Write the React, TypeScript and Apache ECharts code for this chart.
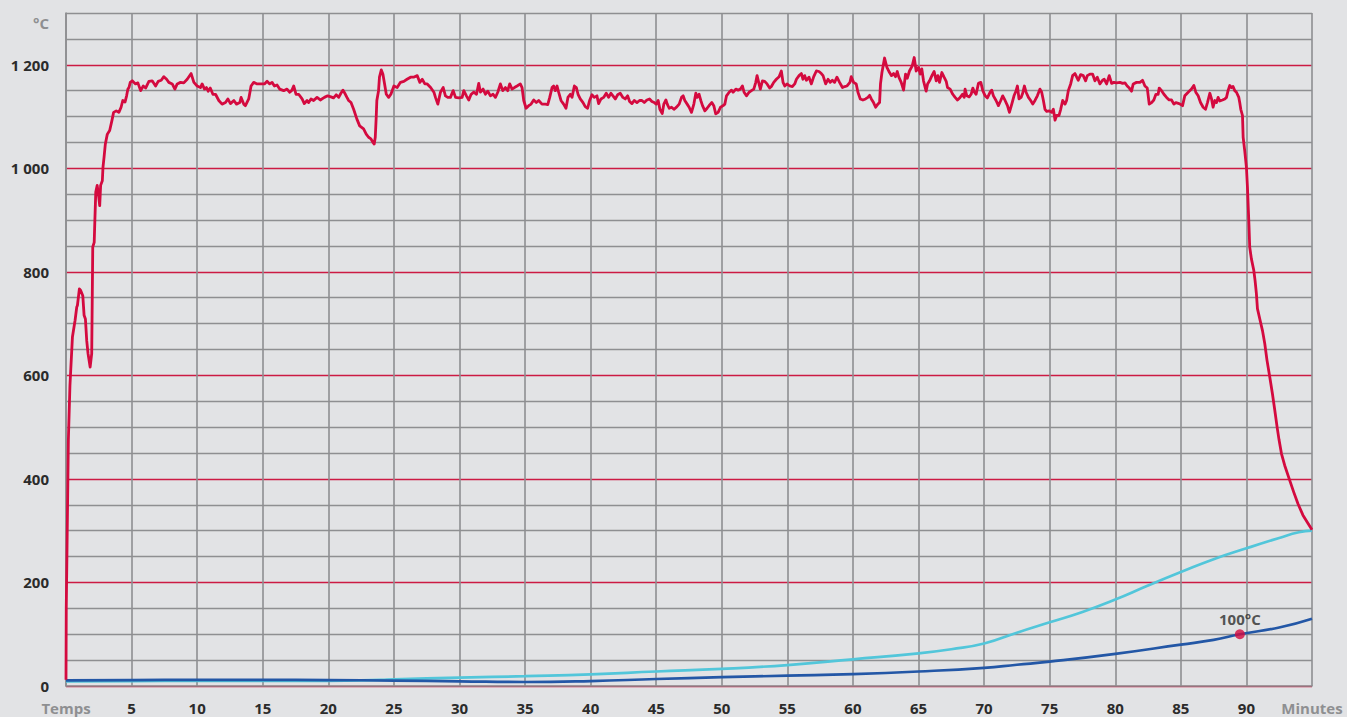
import React, { useEffect, useRef } from "react";
import * as echarts from "echarts";

// Time in minutes, temperature in °C
const furnaceTemp: [number, number][] = [
  [0, 12], [0.02, 150], [0.08, 270], [0.13, 372], [0.18, 475], [0.3, 580], [0.49, 674], [0.69, 706],
  [0.82, 732], [0.87, 735], [1.02, 767], [1.12, 764], [1.28, 754], [1.38, 716], [1.48, 709], [1.58, 667],
  [1.68, 642], [1.84, 616], [1.96, 642], [2.04, 848], [2.15, 857], [2.2, 899], [2.27, 954], [2.38, 967],
  [2.5, 944], [2.57, 928], [2.64, 967], [2.77, 976], [2.82, 1002], [2.9, 1021], [3.0, 1047], [3.15, 1066],
  [3.33, 1073], [3.5, 1092], [3.63, 1108], [3.83, 1111], [4.03, 1108], [4.2, 1118], [4.33, 1131], [4.5, 1128],
  [4.62, 1140], [4.72, 1153], [4.8, 1156], [4.9, 1166],
  [5.05, 1169], [5.3, 1163], [5.48, 1165], [5.69, 1150], [5.89, 1159], [6.07, 1155], [6.32, 1168], [6.57, 1169],
  [6.83, 1159], [7.03, 1168], [7.26, 1170], [7.46, 1177], [7.67, 1172], [7.84, 1166], [8.1, 1163], [8.3, 1153],
  [8.48, 1163], [8.73, 1166], [8.98, 1165], [9.24, 1172], [9.54, 1183], [9.75, 1166], [10.0, 1159], [10.25, 1156],
  [10.38, 1163], [10.56, 1153], [10.71, 1156], [10.84, 1149], [11.0, 1155], [11.2, 1143], [11.4, 1143], [11.65, 1131],
  [11.9, 1124], [12.16, 1127], [12.34, 1134], [12.54, 1125], [12.8, 1131], [13.0, 1124], [13.25, 1127], [13.35, 1137],
  [13.55, 1124], [13.68, 1121], [13.93, 1134], [14.11, 1159], [14.31, 1166], [14.57, 1163], [14.82, 1163], [15.13, 1163],
  [15.33, 1168], [15.53, 1163], [15.71, 1166], [15.89, 1159], [16.09, 1161], [16.29, 1153], [16.6, 1150], [16.85, 1153],
  [17.06, 1147], [17.23, 1151], [17.36, 1159], [17.54, 1143], [17.74, 1143], [18.0, 1134], [18.17, 1125], [18.38, 1131],
  [18.5, 1127], [18.68, 1134], [18.88, 1131], [19.14, 1137], [19.39, 1132], [19.7, 1137], [19.95, 1140], [20.2, 1138],
  [20.4, 1136], [20.6, 1142], [20.79, 1137], [20.96, 1145], [21.12, 1151], [21.3, 1143], [21.42, 1137], [21.55, 1131],
  [21.73, 1127], [21.93, 1114], [22.18, 1095], [22.39, 1082], [22.69, 1076], [22.89, 1066], [23.07, 1060], [23.25, 1057],
  [23.4, 1050], [23.5, 1047], [23.58, 1060], [23.65, 1098], [23.7, 1131], [23.83, 1150], [23.9, 1176], [24.04, 1190],
  [24.16, 1182], [24.29, 1163], [24.42, 1143], [24.6, 1137], [24.77, 1143],
  [25.0, 1159], [25.25, 1156], [25.5, 1166], [25.76, 1168], [26.0, 1172], [26.27, 1176], [26.5, 1176], [26.78, 1179],
  [26.98, 1166], [27.16, 1172], [27.36, 1163], [27.54, 1163], [27.8, 1156], [28.05, 1147], [28.17, 1137], [28.35, 1124],
  [28.55, 1147], [28.76, 1156], [28.93, 1140], [29.11, 1137], [29.31, 1137], [29.52, 1150], [29.7, 1137], [29.95, 1136],
  [30.2, 1137], [30.33, 1150], [30.53, 1140], [30.71, 1132], [30.89, 1143], [31.09, 1147], [31.3, 1143], [31.47, 1164],
  [31.6, 1147], [31.8, 1153], [31.98, 1143], [32.16, 1149], [32.36, 1140], [32.56, 1143], [32.74, 1137], [32.92, 1147],
  [33.12, 1163], [33.3, 1150], [33.5, 1156], [33.68, 1150], [33.83, 1163], [34.01, 1153], [34.19, 1156], [34.39, 1159],
  [34.64, 1163], [34.77, 1156], [34.9, 1131], [35.08, 1116], [35.28, 1121], [35.46, 1124], [35.66, 1132], [35.86, 1127],
  [36.04, 1131], [36.29, 1124], [36.55, 1124], [36.73, 1123], [36.88, 1137], [37.06, 1156], [37.18, 1159], [37.31, 1150],
  [37.44, 1159], [37.56, 1147], [37.74, 1131], [37.94, 1124], [38.12, 1116], [38.27, 1137], [38.45, 1143], [38.58, 1137],
  [38.76, 1159], [38.91, 1156], [39.04, 1143], [39.21, 1134], [39.42, 1127], [39.59, 1119], [39.77, 1116], [39.92, 1131],
  [40.1, 1142], [40.28, 1137], [40.48, 1140], [40.61, 1125], [40.79, 1134], [40.99, 1137], [41.19, 1145], [41.37, 1137],
  [41.55, 1145], [41.7, 1140], [41.88, 1134], [42.06, 1142], [42.26, 1145], [42.46, 1137], [42.64, 1134], [42.82, 1140],
  [42.97, 1129], [43.15, 1125], [43.32, 1131], [43.53, 1127], [43.73, 1131], [43.91, 1131], [44.09, 1127], [44.29, 1132],
  [44.49, 1134], [44.67, 1129], [44.85, 1127],
  [45.0, 1124], [45.15, 1131], [45.28, 1114], [45.46, 1106], [45.58, 1124], [45.74, 1132], [45.84, 1124], [45.99, 1116],
  [46.17, 1118], [46.35, 1114], [46.55, 1118], [46.75, 1124], [46.93, 1137], [47.06, 1140], [47.18, 1131], [47.36, 1124],
  [47.51, 1118], [47.69, 1108], [47.87, 1124], [48.02, 1145], [48.12, 1137], [48.27, 1143], [48.4, 1131], [48.53, 1121],
  [48.71, 1111], [48.88, 1116], [49.09, 1123], [49.24, 1127], [49.39, 1121], [49.54, 1105], [49.72, 1108], [49.9, 1118],
  [50.1, 1121], [50.23, 1124], [50.36, 1140], [50.56, 1147], [50.74, 1151], [50.86, 1147], [51.07, 1153], [51.24, 1151],
  [51.42, 1153], [51.57, 1159], [51.7, 1147], [51.88, 1140], [52.08, 1147], [52.26, 1150], [52.44, 1153], [52.59, 1166],
  [52.69, 1179], [52.84, 1163], [52.94, 1153], [53.1, 1169], [53.27, 1168], [53.45, 1163], [53.65, 1155], [53.78, 1158],
  [53.96, 1166], [54.16, 1172], [54.37, 1177], [54.54, 1188], [54.67, 1166], [54.8, 1159], [54.97, 1163], [55.18, 1159],
  [55.38, 1158], [55.56, 1163], [55.69, 1172], [55.89, 1179], [56.07, 1183], [56.19, 1172], [56.32, 1179], [56.45, 1170],
  [56.65, 1176], [56.83, 1163], [57.01, 1177], [57.21, 1188], [57.41, 1187], [57.59, 1183], [57.72, 1179], [57.92, 1163],
  [58.1, 1172], [58.27, 1166], [58.43, 1170], [58.6, 1166], [58.78, 1176], [58.98, 1166], [59.2, 1156], [59.37, 1158],
  [59.55, 1159], [59.77, 1166], [59.87, 1177], [60.05, 1166], [60.25, 1163], [60.38, 1147], [60.56, 1134], [60.76, 1132],
  [60.96, 1134], [61.14, 1137], [61.27, 1141], [61.4, 1134], [61.57, 1127], [61.73, 1118], [61.9, 1124], [62.03, 1127],
  [62.1, 1163], [62.21, 1185], [62.41, 1213], [62.59, 1195], [62.79, 1185], [62.94, 1179], [63.1, 1183], [63.25, 1177],
  [63.38, 1187], [63.5, 1176], [63.68, 1166], [63.86, 1151], [64.01, 1182], [64.14, 1174], [64.31, 1188], [64.52, 1198],
  [64.67, 1214], [64.82, 1188], [65.0, 1195],
  [65.13, 1182], [65.25, 1192], [65.38, 1169], [65.51, 1156], [65.58, 1149], [65.69, 1163], [65.84, 1169], [66.02, 1179],
  [66.19, 1187], [66.35, 1169], [66.47, 1179], [66.6, 1166], [66.78, 1185], [66.95, 1176], [67.11, 1168], [67.21, 1156],
  [67.41, 1153], [67.61, 1143], [67.79, 1137], [67.97, 1132], [68.17, 1137], [68.35, 1143], [68.48, 1137], [68.55, 1153],
  [68.68, 1140], [68.86, 1138], [69.01, 1143], [69.14, 1155], [69.26, 1147], [69.39, 1143], [69.57, 1164], [69.75, 1166],
  [69.9, 1150], [70.08, 1140], [70.25, 1136], [70.46, 1147], [70.58, 1151], [70.71, 1140], [70.91, 1131], [71.09, 1121],
  [71.27, 1131], [71.42, 1140], [71.6, 1131], [71.78, 1121], [71.93, 1108], [72.11, 1124], [72.28, 1140], [72.44, 1150],
  [72.54, 1159], [72.66, 1134], [72.82, 1137], [72.94, 1145], [73.07, 1159], [73.2, 1147], [73.38, 1137], [73.55, 1131],
  [73.71, 1124], [73.88, 1131], [74.06, 1140], [74.26, 1153], [74.39, 1147], [74.52, 1131], [74.64, 1114], [74.77, 1110],
  [74.97, 1111], [75.15, 1108], [75.28, 1114], [75.41, 1093], [75.53, 1102], [75.71, 1102], [75.84, 1114], [75.99, 1131],
  [76.17, 1124], [76.29, 1131], [76.42, 1150], [76.6, 1163], [76.75, 1179], [76.93, 1183], [77.06, 1176], [77.18, 1170],
  [77.36, 1181], [77.56, 1179], [77.74, 1169], [77.87, 1179], [78.07, 1182], [78.27, 1182], [78.45, 1169], [78.63, 1176],
  [78.83, 1163], [79.03, 1170], [79.16, 1172], [79.34, 1163], [79.54, 1179], [79.72, 1164], [79.9, 1166], [80.1, 1165],
  [80.36, 1166], [80.56, 1164], [80.74, 1165], [80.91, 1159], [81.07, 1155], [81.24, 1149], [81.37, 1163], [81.62, 1166],
  [81.88, 1166], [82.08, 1170], [82.26, 1159], [82.44, 1155], [82.59, 1124], [82.77, 1127], [82.94, 1132], [83.1, 1143],
  [83.27, 1143], [83.35, 1155], [83.53, 1150], [83.71, 1143], [83.91, 1137], [84.11, 1132], [84.29, 1132], [84.47, 1124],
  [84.62, 1127], [84.87, 1125],
  [85.13, 1121], [85.3, 1140], [85.56, 1147], [85.81, 1153], [85.99, 1160], [86.14, 1147], [86.32, 1140], [86.5, 1127],
  [86.7, 1118], [86.88, 1114], [87.03, 1127], [87.21, 1145], [87.34, 1134], [87.46, 1118], [87.59, 1131], [87.72, 1127],
  [87.84, 1137], [87.97, 1130], [88.17, 1132], [88.35, 1134], [88.48, 1137], [88.6, 1150], [88.73, 1160], [88.86, 1156],
  [88.98, 1158], [89.11, 1150], [89.24, 1147], [89.42, 1137], [89.49, 1127], [89.57, 1114], [89.7, 1102], [89.75, 1060],
  [89.87, 1034], [90.0, 1002], [90.08, 963], [90.15, 918], [90.2, 886], [90.25, 848], [90.38, 825], [90.56, 803],
  [90.66, 783], [90.76, 758], [90.84, 729], [91.02, 709], [91.22, 687], [91.4, 661], [91.57, 629], [91.78, 597],
  [91.98, 565], [92.16, 533], [92.34, 500], [92.49, 475], [92.67, 449], [92.92, 426], [93.25, 401], [93.6, 375],
  [93.93, 352], [94.31, 330], [94.7, 314], [95.0, 302],
];

const outerTemp: [number, number][] = [
  [0, 9], [5, 9.5], [10, 10], [15, 10], [20, 10], [24, 12], [25, 13], [30, 16], [35, 19], [40, 22.5],
  [45, 28], [50, 33], [55, 40.5], [60, 51.5], [65, 63], [67.5, 71], [70, 82], [72.5, 103], [75, 123],
  [77.5, 143], [80, 167], [82.5, 194], [85, 220], [87.5, 245], [90, 266], [92.5, 286], [94, 297], [95, 300],
];

const innerTemp: [number, number][] = [
  [0, 11], [5, 11.5], [10, 12], [15, 12], [20, 11.5], [25, 10.5], [30, 9], [35, 7.7], [40, 9.5], [45, 13.5],
  [50, 17], [55, 20], [60, 23], [65, 28], [70, 35], [72.5, 41], [75, 47], [80, 62], [85, 80], [87.5, 89],
  [89.5, 100], [92.5, 113], [95, 130],
];

const markerPoint: [number, number] = [89.5, 100];
const markerLabel = "100°C";
const xStartLabel = "Temps";
const xEndLabel = "Minutes";
const yUnitLabel = "°C";
const yLabelValues = [0, 200, 400, 600, 800, 1000, 1200];

const RED = "#d40a3f";
const CYAN = "#52c6da";
const BLUE = "#2357a6";
const GRAY = "#8e8f91";
const GRID_RED = "#cc1a43";
const TEXT = "#2b2b2b";
const FONT = "'Open Sans', 'DejaVu Sans', sans-serif";

function fmtThousands(v: number): string {
  const s = String(v);
  if (s.length > 3) return s.slice(0, s.length - 3) + " " + s.slice(-3);
  return s;
}

export default function App() {
  const ref = useRef<HTMLDivElement>(null);
  useEffect(() => {
    if (!ref.current) return;
    const chart = echarts.init(ref.current, undefined, { renderer: "svg" });
    const gridLineColors = [GRID_RED, GRAY, GRAY, GRAY];
    chart.setOption({
      animation: false,
      backgroundColor: "#e2e3e5",
      grid: { left: 66, right: 35, top: 13, bottom: 31, containLabel: false },
      graphic: [
        {
          type: "text",
          right: 1347 - 49,
          top: 15,
          style: { text: yUnitLabel, fill: GRAY, font: `bold 15px ${FONT}` },
        },
      ],
      xAxis: {
        type: "value",
        min: 0,
        max: 95,
        interval: 5,
        axisLine: { show: true, lineStyle: { color: GRAY, width: 1.6 } },
        axisTick: { show: false },
        splitLine: { show: true, lineStyle: { color: GRAY, width: 1.6 } },
        axisLabel: {
          margin: 14,
          fontFamily: FONT,
          fontSize: 15,
          lineHeight: 15,
          fontWeight: "bold",
          color: TEXT,
          showMinLabel: true,
          showMaxLabel: true,
          formatter: (v: number) => {
            if (v === 0) return `{g|${xStartLabel}}`;
            if (v === 95) return `{g|${xEndLabel}}`;
            return String(v);
          },
          rich: {
            g: { color: GRAY, fontFamily: FONT, fontSize: 15, lineHeight: 15, fontWeight: "bold" },
          },
        },
      },
      yAxis: {
        type: "value",
        min: 0,
        max: 1300,
        interval: 50,
        axisLine: { show: true, lineStyle: { color: GRAY, width: 1.6 } },
        axisTick: { show: false },
        splitLine: { show: true, lineStyle: { color: gridLineColors, width: 1.4 } },
        axisLabel: {
          margin: 17,
          fontFamily: FONT,
          fontSize: 15,
          fontWeight: "bold",
          color: TEXT,
          formatter: (v: number) => (yLabelValues.includes(v) ? fmtThousands(v) : ""),
        },
      },
      series: [
        {
          type: "line",
          data: outerTemp,
          smooth: true,
          showSymbol: false,
          lineStyle: { color: CYAN, width: 2.7 },
          z: 3,
        },
        {
          type: "line",
          data: innerTemp,
          smooth: true,
          showSymbol: false,
          lineStyle: { color: BLUE, width: 2.7 },
          z: 4,
        },
        {
          type: "line",
          data: furnaceTemp,
          smooth: false,
          showSymbol: false,
          lineStyle: { color: RED, width: 2.8, join: "round" },
          z: 5,
        },
        {
          type: "scatter",
          data: [markerPoint],
          symbolSize: 10,
          itemStyle: { color: RED },
          z: 6,
          label: {
            show: true,
            position: "top",
            distance: 3,
            formatter: markerLabel,
            fontFamily: FONT,
            fontSize: 15,
            fontWeight: "bold",
            color: TEXT,
          },
        },
      ],
    });
    return () => chart.dispose();
  }, []);
  return (
    <div
      ref={ref}
      style={{ position: "fixed", left: 0, top: 0, width: 1347, height: 717 }}
    />
  );
}
